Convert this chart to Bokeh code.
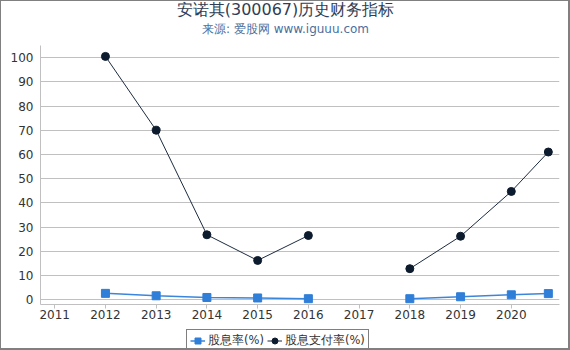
import numpy as np
from bokeh.plotting import figure
from bokeh.layouts import column
from bokeh.models import Label, Legend, LegendItem, ColumnDataSource, FixedTicker, Range1d
from bokeh.embed import file_html
from bokeh.resources import INLINE

years = [2012, 2013, 2014, 2015, 2016, 2017, 2018, 2019, 2020, 2020.73]
dividend_yield = [2.6, 1.6, 0.9, 0.7, 0.4, np.nan, 0.4, 1.2, 2.0, 2.5]
payout_ratio = [100.5, 70.0, 26.8, 16.2, 26.5, np.nan, 12.8, 26.2, 44.7, 61.0]
x_ticks = [2011, 2012, 2013, 2014, 2015, 2016, 2017, 2018, 2019, 2020]
y_ticks = [0, 10, 20, 30, 40, 50, 60, 70, 80, 90, 100]
series_names = ["股息率(%)", "股息支付率(%)"]
title_text = "安诺其(300067)历史财务指标"
subtitle_text = "来源: 爱股网 www.iguuu.com"

src = ColumnDataSource(dict(x=years, dy=dividend_yield, pr=payout_ratio))

FONT = "DejaVu Sans"
C1_LINE, C1 = "#3a86dc", "#2f7ed8"
C2_LINE, C2 = "#1c2b40", "#0d1b2e"
W = 567
LB, RB = 39, 9  # frame borders of the main chart (strips are aligned to it)


def strip(h):
    f = figure(width=W, height=h, output_backend="svg", toolbar_location=None,
               x_range=Range1d(LB, W - RB), y_range=Range1d(h, 0),
               x_axis_location=None, y_axis_location=None,
               min_border_left=LB, min_border_right=RB, min_border_top=0, min_border_bottom=0)
    f.grid.visible = False
    f.outline_line_color = None
    return f


# title strip
tf = strip(44)
tf.add_layout(Label(x=284, y=8, text=title_text, text_align="center", text_baseline="middle",
                    text_font=FONT, text_font_size="16px", text_color="#2f3e55"))
tf.add_layout(Label(x=284, y=27, text=subtitle_text, text_align="center", text_baseline="middle",
                    text_font=FONT, text_font_size="12px", text_color="#4a6fa0"))

# main chart
p = figure(width=W, height=279, output_backend="svg", toolbar_location=None,
           x_range=Range1d(2010.72, 2020.95), y_range=Range1d(-2, 105),
           min_border_left=LB, min_border_right=RB, min_border_bottom=20, min_border_top=0)
p.title.visible = False
p.outline_line_color = None
p.background_fill_color = "white"

p.xaxis.ticker = FixedTicker(ticks=x_ticks)
p.yaxis.ticker = FixedTicker(ticks=y_ticks)
p.xgrid.grid_line_color = None
p.ygrid.grid_line_color = "#c0c0c0"
p.ygrid.grid_line_width = 1
for ax in (p.xaxis, p.yaxis):
    ax.axis_line_color = "#c0c0c0"
    ax.major_tick_line_color = "#c0c0c0"
    ax.minor_tick_line_color = None
    ax.major_label_text_font = FONT
    ax.major_label_text_font_size = "12px"
    ax.major_label_text_color = "#333333"
p.xaxis.major_tick_in = 0
p.xaxis.major_tick_out = 4
p.xaxis.major_label_standoff = 1
p.yaxis.major_tick_in = 0
p.yaxis.major_tick_out = 0
p.yaxis.major_label_standoff = 7

l1 = p.line("x", "dy", source=src, line_color=C1_LINE, line_width=1.5)
s1 = p.scatter("x", "dy", source=src, marker="square", size=8, fill_color=C1, line_color=C1)
l2 = p.line("x", "pr", source=src, line_color=C2_LINE, line_width=1)
s2 = p.scatter("x", "pr", source=src, marker="circle", size=8, fill_color=C2, line_color=C2)

# legend strip below the chart
lf = strip(24)
dummy = ColumnDataSource(dict(x=[-100], y=[-100]))
g1 = lf.line("x", "y", source=dummy, line_color=C1_LINE, line_width=1.5)
g1m = lf.scatter("x", "y", source=dummy, marker="square", size=8, fill_color=C1, line_color=C1)
g2 = lf.line("x", "y", source=dummy, line_color=C2_LINE, line_width=1)
g2m = lf.scatter("x", "y", source=dummy, marker="circle", size=8, fill_color=C2, line_color=C2)

legend = Legend(items=[LegendItem(label=series_names[0], renderers=[g1, g1m]),
                       LegendItem(label=series_names[1], renderers=[g2, g2m])],
                orientation="horizontal", location=(146, -4),
                label_text_font=FONT, label_text_font_size="11.5px", label_text_color="#333333",
                border_line_color="black", border_line_width=1.5,
                padding=3, spacing=3, margin=0, glyph_width=15, glyph_height=15,
                label_standoff=3, label_height=15)
lf.add_layout(legend, "center")

layout = column(tf, p, lf, spacing=0)
layout.styles = {"border-top": "1px solid #808080", "border-left": "1px solid #808080",
                 "border-right": "2px solid #808080", "border-bottom": "2px solid #808080"}

open("out.html", "w").write(file_html(layout, INLINE))
